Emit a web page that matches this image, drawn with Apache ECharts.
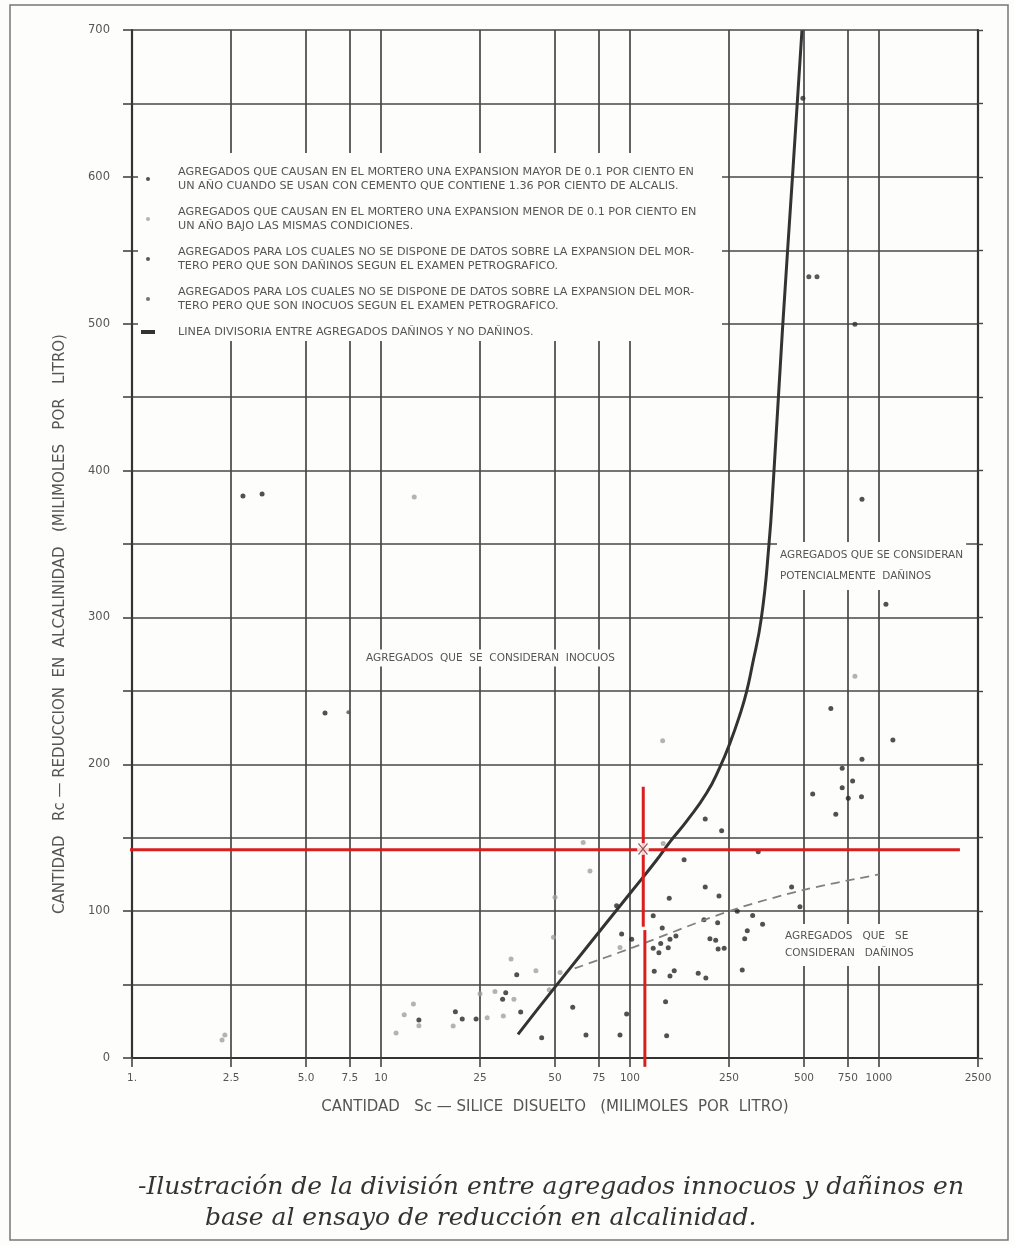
<!DOCTYPE html>
<html><head><meta charset="utf-8">
<script src="https://cdn.jsdelivr.net/npm/echarts@6/dist/echarts.min.js"></script>
<style>html,body{margin:0;padding:0;background:#fdfdfb}#c{width:1014px;height:1245px}</style>
</head><body><div id="c"></div>
<script>
// ---- axis ticks ----
const xTickValues = [1, 2.5, 5, 7.5, 10, 25, 50, 75, 100, 250, 500, 750, 1000, 2500];
const xTickLabels = ['1.', '2.5', '5.0', '7.5', '10', '25', '50', '75', '100', '250', '500', '750', '1000', '2500'];
const yMin = 0, yMax = 700, yStep = 50;

// ---- series names (legend texts) ----
const nameMayor = 'AGREGADOS QUE CAUSAN EN EL MORTERO UNA EXPANSION MAYOR DE 0.1 POR CIENTO EN\nUN AÑO CUANDO SE USAN CON CEMENTO QUE CONTIENE 1.36 POR CIENTO DE ALCALIS.';
const nameMenor = 'AGREGADOS QUE CAUSAN EN EL MORTERO UNA EXPANSION MENOR DE 0.1 POR CIENTO EN\nUN AÑO BAJO LAS MISMAS CONDICIONES.';
const namePetroDan = 'AGREGADOS PARA LOS CUALES NO SE DISPONE DE DATOS SOBRE LA EXPANSION DEL MOR-\nTERO PERO QUE SON DAÑINOS SEGUN EL EXAMEN PETROGRAFICO.';
const namePetroIno = 'AGREGADOS PARA LOS CUALES NO SE DISPONE DE DATOS SOBRE LA EXPANSION DEL MOR-\nTERO PERO QUE SON INOCUOS SEGUN EL EXAMEN PETROGRAFICO.';
const nameDivisoria = 'LINEA DIVISORIA ENTRE AGREGADOS DAÑINOS Y NO DAÑINOS.';

// ---- data [Sc, Rc] ----
const seriesMayor = [
  [2.79, 382.6], [3.33, 384], [5.96, 235],
  [855, 380.5], [1067, 309], [641, 238], [1138, 216.5], [855, 203.5], [712, 197.3], [784, 188.6],
  [712, 184], [542, 179.7], [753, 176.8], [851, 177.9], [671, 166],
  [200.6, 162.7], [233.5, 154.7], [165, 135], [327.5, 140.5], [200.6, 116.4], [227.8, 110.3],
  [446, 116.4], [481.7, 103], [124, 96.9], [134.8, 88.5], [198.3, 94.2], [225, 92.1], [311, 97.1],
  [341, 91], [296, 86.7], [289, 81.2], [282.5, 59.9], [209.5, 81.2], [221, 80.1], [226, 74.2],
  [239, 74.7], [144.8, 80.8], [153, 83], [124, 74.7], [132.9, 78], [142.5, 75.1], [130.7, 71.7],
  [143.8, 108.7], [269.8, 100],
  [125.2, 59], [144.8, 55.8], [150.6, 59.4], [188, 57.7], [201.8, 54.5], [139, 38.3], [140.4, 15.2],
  [88.4, 103.7], [92.6, 84.4], [101.6, 80.8], [35.1, 56.7], [31.7, 44.5], [30.8, 40], [36.4, 31.3],
  [24.1, 26.5], [21.2, 26.5], [19.9, 31.5], [14.2, 25.9], [44.2, 13.8], [58.9, 34.5], [66.6, 15.7],
  [91.2, 15.7], [97, 30]
];
const seriesMenor = [
  [13.6, 382], [2.3, 12.3], [2.36, 15.7], [801, 260], [135.3, 216], [64.9, 146.8], [136, 146],
  [69.1, 127.3], [50, 109.4], [49.3, 82.2], [91.2, 75.3], [52.4, 58.3], [47.4, 46.5], [33.3, 67.4],
  [41.9, 59.4], [25, 43.8], [28.7, 45.2], [34.2, 40], [31, 28.6], [26.7, 27.4], [19.5, 21.8],
  [13.5, 36.8], [12.4, 29.5], [14.2, 22], [11.5, 17]
];
const seriesPetroDan = [[495, 653.5], [523, 532], [564, 532], [801, 499.6]];
const seriesPetroIno = [[7.4, 235.5]];
const lineaDivisoria = [
  [35.5, 16.1], [50, 48.3], [100, 112], [128, 134.8], [144.8, 147.2], [170.2, 162], [203.2, 180.4],
  [229.8, 198.1], [252.1, 214.4], [277.8, 234.9], [293.8, 249.1], [309, 266.2], [337.5, 300.2],
  [361.5, 349.2], [376.9, 393.5], [409.7, 495.6], [449.4, 599.7], [490.8, 699.8]
];
const lineaDanos = [[60, 61], [100, 74.5], [250, 100], [500, 114.5], [1000, 125]];
// red annotation (reading of a sample)
const redHoriz = [[0.87, 141.8], [2115, 141.8]];
const redVertTop = [[113.1, 184.7], [113.1, 89.4]];
const redVertLow = [[114.8, 87.1], [114.8, -6]];
const redPoint = [[112.8, 142.3]];

const FONT = 'DejaVu Sans';
const GRID = '#474747';
const TXT = '#555';

const chart = echarts.init(document.getElementById('c'), null, {renderer: 'canvas'});

function xLabel(v) {
  let best = 0, bd = Infinity;
  xTickValues.forEach((t, i) => { const d = Math.abs(Math.log(v) - Math.log(t)); if (d < bd) { bd = d; best = i; } });
  return xTickLabels[best];
}

chart.setOption({
  backgroundColor: '#fdfdfb',
  animation: false,
  grid: {left: 132, right: 36, top: 30, bottom: 187},
  xAxis: [{
    type: 'log', logBase: 10, min: 1, max: 2500,
    axisLine: {show: true, lineStyle: {color: '#333', width: 2.2}},
    axisTick: {show: true, customValues: xTickValues, length: 9, lineStyle: {color: '#444', width: 1.6}},
    axisLabel: {show: true, customValues: xTickValues, formatter: xLabel, margin: 15, fontSize: 10.5, color: TXT, fontFamily: FONT},
    splitLine: {show: true, lineStyle: {color: GRID, width: 1.7}},
    minorTick: {show: false}, minorSplitLine: {show: false},
    name: 'CANTIDAD   Sc — SILICE  DISUELTO   (MILIMOLES  POR  LITRO)',
    nameLocation: 'middle', nameGap: 42,
    nameTextStyle: {fontSize: 15, color: TXT, fontFamily: FONT}
  }, {
    type: 'log', logBase: 10, min: 1, max: 2500, position: 'top',
    axisLine: {show: true, lineStyle: {color: '#333', width: 2.2}},
    axisTick: {show: false}, axisLabel: {show: false}, splitLine: {show: false}
  }],
  yAxis: [{
    type: 'value', min: yMin, max: yMax, interval: yStep,
    axisLine: {show: true, lineStyle: {color: '#333', width: 2.2}},
    axisTick: {show: true, length: 9, lineStyle: {color: '#444', width: 1.6}},
    axisLabel: {formatter: v => (v % 100 === 0 ? String(v) : ''), margin: 22, fontSize: 11.5, color: TXT, fontFamily: FONT},
    splitLine: {show: true, lineStyle: {color: GRID, width: 1.7}}
  }, {
    type: 'value', min: yMin, max: yMax, interval: yStep, position: 'right',
    axisLine: {show: true, lineStyle: {color: '#333', width: 2.2}},
    axisTick: {show: true, length: 5, lineStyle: {color: '#444', width: 1.4}},
    axisLabel: {show: false}, splitLine: {show: false}
  }],
  legend: {
    orient: 'vertical', left: 141, top: 165, padding: 0, itemGap: 12,
    itemWidth: 14, itemHeight: 4, z: 10, selectedMode: false,
    textStyle: {fontSize: 11.2, color: TXT, lineHeight: 14, fontFamily: FONT, padding: [0, 0, 0, 18]},
    data: [
      {name: nameMayor, icon: 'circle'},
      {name: nameMenor, icon: 'circle'},
      {name: namePetroDan, icon: 'circle'},
      {name: namePetroIno, icon: 'circle'},
      {name: nameDivisoria, icon: 'rect'}
    ]
  },
  graphic: [
    {type: 'rect', z: 5, shape: {x: 138, y: 153, width: 584, height: 188}, style: {fill: '#fdfdfb'}},
    {type: 'rect', z: 0, shape: {x: 10, y: 5, width: 998, height: 1235}, style: {fill: 'none', stroke: '#777', lineWidth: 1.5}},
    {type: 'text', z: 6, x: 363, y: 658, style: {text: 'AGREGADOS  QUE  SE  CONSIDERAN  INOCUOS', font: '10.5px ' + FONT, fill: TXT, verticalAlign: 'middle', backgroundColor: '#fdfdfb', padding: [3, 3]}},
    {type: 'text', z: 6, x: 777, y: 566, style: {text: 'AGREGADOS QUE SE CONSIDERAN\nPOTENCIALMENTE  DAÑINOS', font: '10.5px ' + FONT, fill: TXT, lineHeight: 21, verticalAlign: 'middle', backgroundColor: '#fdfdfb', padding: [3, 3]}},
    {type: 'text', z: 6, x: 782, y: 945, style: {text: 'AGREGADOS   QUE   SE\nCONSIDERAN   DAÑINOS', font: '10.5px ' + FONT, fill: TXT, lineHeight: 17, verticalAlign: 'middle', backgroundColor: '#fdfdfb', padding: [4, 3]}},
    {type: 'text', z: 6, x: 60, y: 624, rotation: Math.PI / 2, style: {text: 'CANTIDAD   Rc — REDUCCION  EN  ALCALINIDAD   (MILIMOLES   POR   LITRO)', font: '15px ' + FONT, fill: TXT, align: 'center', verticalAlign: 'middle'}},
    {type: 'text', z: 6, x: 138, y: 1187, style: {text: '-Ilustración de la división entre agregados innocuos y dañinos en', font: 'italic 25px "DejaVu Serif"', fill: '#333', verticalAlign: 'middle'}},
    {type: 'text', z: 6, x: 205, y: 1218, style: {text: 'base al ensayo de reducción en alcalinidad.', font: 'italic 25px "DejaVu Serif"', fill: '#333', verticalAlign: 'middle'}}
  ],
  series: [
    {name: nameMayor, type: 'scatter', data: seriesMayor, symbolSize: 5, itemStyle: {color: '#262626'}, z: 3},
    {name: nameMenor, type: 'scatter', data: seriesMenor, symbolSize: 5, itemStyle: {color: '#a0a0a0'}, z: 3},
    {name: namePetroDan, type: 'scatter', data: seriesPetroDan, symbolSize: 5, itemStyle: {color: '#303030'}, z: 3},
    {name: namePetroIno, type: 'scatter', data: seriesPetroIno, symbolSize: 4, itemStyle: {color: '#505050'}, z: 3},
    {name: nameDivisoria, type: 'line', data: lineaDivisoria, smooth: 0.5, symbol: 'none', lineStyle: {color: '#333', width: 3}, itemStyle: {color: '#333'}, z: 4},
    {name: 'danos', type: 'line', data: lineaDanos, smooth: 0.3, symbol: 'none', lineStyle: {color: '#808080', width: 1.8, type: [9, 6]}, z: 4},
    {name: 'redH', type: 'line', data: redHoriz, symbol: 'none', clip: false, lineStyle: {color: '#d81e1e', width: 3}, z: 7},
    {name: 'redV1', type: 'line', data: redVertTop, symbol: 'none', clip: false, lineStyle: {color: '#d81e1e', width: 3}, z: 7},
    {name: 'redV2', type: 'line', data: redVertLow, symbol: 'none', clip: false, lineStyle: {color: '#d81e1e', width: 3}, z: 7},
    {name: 'muestra', type: 'scatter', data: redPoint, symbol: 'circle', symbolSize: 12, itemStyle: {color: '#fff', borderColor: '#fff', borderWidth: 0}, z: 8},
    {name: 'muestraX', type: 'scatter', data: redPoint, symbol: 'path://M0,0L10,12M10,0L0,12', symbolSize: [9, 11], itemStyle: {color: 'none', borderColor: '#8a3030', borderWidth: 1.3}, z: 9}
  ]
});
</script>
</body></html>
